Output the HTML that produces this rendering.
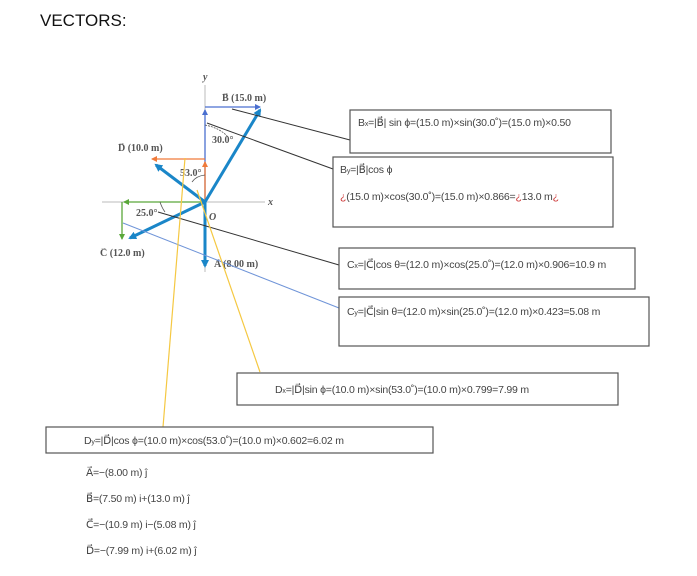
<!DOCTYPE html>
<html><head><meta charset="utf-8"><style>
html,body{margin:0;padding:0;background:#fff;}
svg{display:block;}
.t{font-family:"Liberation Sans",sans-serif;font-size:10.5px;fill:#444;letter-spacing:-0.2px;}
.s{font-family:"Liberation Serif",serif;font-size:10px;fill:#555;font-weight:bold;}
.ar{font-family:"Liberation Sans",sans-serif;font-size:7px;fill:#555;}
</style></head><body>
<svg width="697" height="576" viewBox="0 0 697 576" xmlns="http://www.w3.org/2000/svg">
<defs>
<marker id="ab" markerWidth="8" markerHeight="8" refX="6" refY="4" orient="auto" markerUnits="userSpaceOnUse"><path d="M0,0 L8,4 L0,8 z" fill="#1a86c8"/></marker>
<marker id="as" markerWidth="6" markerHeight="6" refX="5" refY="3" orient="auto" markerUnits="userSpaceOnUse"><path d="M0,0 L6,3 L0,6 z" fill="#4a6fd0"/></marker>
<marker id="ao" markerWidth="6" markerHeight="6" refX="5" refY="3" orient="auto" markerUnits="userSpaceOnUse"><path d="M0,0 L6,3 L0,6 z" fill="#f07a3a"/></marker>
<marker id="ag" markerWidth="6" markerHeight="6" refX="5" refY="3" orient="auto" markerUnits="userSpaceOnUse"><path d="M0,0 L6,3 L0,6 z" fill="#5aa83a"/></marker>
</defs>
<text x="40" y="26" font-family="Liberation Sans,sans-serif" font-size="17" fill="#111">VECTORS:</text>
<line x1="205" y1="85" x2="205" y2="272" stroke="#bbb" stroke-width="1"/>
<line x1="102" y1="202" x2="265" y2="202" stroke="#bbb" stroke-width="1"/>
<text x="203" y="80" class="s" font-style="italic" font-weight="normal">y</text>
<text x="268" y="205" class="s" font-style="italic" font-weight="normal">x</text>
<text x="209" y="220" class="s" font-style="italic">O</text>
<line x1="205" y1="107" x2="260" y2="107" stroke="#4a6fd0" stroke-width="1.3" marker-end="url(#as)"/>
<line x1="205" y1="200" x2="205" y2="110" stroke="#4a6fd0" stroke-width="1.3" marker-end="url(#as)"/>
<line x1="205" y1="159" x2="152" y2="159" stroke="#f07a3a" stroke-width="1.3" marker-end="url(#ao)"/>
<line x1="205" y1="200" x2="205" y2="162" stroke="#f07a3a" stroke-width="1.3" marker-end="url(#ao)"/>
<line x1="205" y1="202" x2="124" y2="202" stroke="#5aa83a" stroke-width="1.3" marker-end="url(#ag)"/>
<line x1="122" y1="202" x2="122" y2="239" stroke="#5aa83a" stroke-width="1.3" marker-end="url(#ag)"/>
<line x1="205" y1="202" x2="260" y2="110" stroke="#1a86c8" stroke-width="3" marker-end="url(#ab)"/>
<line x1="205" y1="202" x2="156" y2="165" stroke="#1a86c8" stroke-width="3" marker-end="url(#ab)"/>
<line x1="205" y1="202" x2="130" y2="238" stroke="#1a86c8" stroke-width="3" marker-end="url(#ab)"/>
<line x1="205" y1="202" x2="205" y2="266" stroke="#1a86c8" stroke-width="3" marker-end="url(#ab)"/>
<path d="M205,125 Q220,128 228,137" fill="none" stroke="#555" stroke-width="0.8" stroke-dasharray="2,1"/>
<path d="M205,175 Q196,176 192,182" fill="none" stroke="#555" stroke-width="0.8"/>
<path d="M160,202 Q162,208 165,212" fill="none" stroke="#555" stroke-width="0.8"/>
<text x="212" y="143" class="s" font-weight="normal">30.0°</text>
<text x="180" y="176" class="s" font-weight="normal">53.0°</text>
<text x="136" y="216" class="s" font-weight="normal">25.0°</text>
<text x="222" y="95" class="ar">→</text><text x="222" y="101" class="s">B (15.0 m)</text>
<text x="118" y="145" class="ar">→</text><text x="118" y="151" class="s">D (10.0 m)</text>
<text x="100" y="250" class="ar">→</text><text x="100" y="256" class="s">C (12.0 m)</text>
<text x="214" y="261" class="ar">→</text><text x="214" y="267" class="s">A (8.00 m)</text>
<line x1="232" y1="109" x2="350" y2="140" stroke="#333" stroke-width="1"/>
<line x1="207" y1="123" x2="333" y2="169" stroke="#333" stroke-width="1"/>
<line x1="158" y1="212" x2="339" y2="265" stroke="#333" stroke-width="1"/>
<line x1="123" y1="223" x2="339" y2="308" stroke="#6f94d8" stroke-width="1"/>
<line x1="185" y1="158" x2="163" y2="427" stroke="#f5c842" stroke-width="1.2"/>
<line x1="197" y1="190" x2="260" y2="372" stroke="#f5c842" stroke-width="1.2"/>
<g fill="#fff" stroke="#555" stroke-width="1.2">
<rect x="350" y="110" width="261" height="43"/>
<rect x="333" y="157" width="280" height="70"/>
<rect x="339" y="248" width="296" height="41"/>
<rect x="339" y="297" width="310" height="49"/>
<rect x="237" y="373" width="381" height="32"/>
<rect x="46" y="427" width="387" height="26"/>
</g>
<svg x="350" y="110" width="260" height="43"><text x="8" y="16" class="t">B<tspan font-size="7">x</tspan>=|B⃗| sin ϕ=(15.0 m)×sin(30.0˚)=(15.0 m)×0.50</text></svg>
<text x="340" y="173" class="t">B<tspan font-size="7">y</tspan>=|B⃗|cos ϕ</text>
<text x="340" y="200" class="t"><tspan fill="#c33">¿</tspan>(15.0 m)×cos(30.0˚)=(15.0 m)×0.866=<tspan fill="#c33">¿</tspan>13.0 m<tspan fill="#c33">¿</tspan></text>
<svg x="339" y="248" width="295" height="41"><text x="8" y="20" class="t">C<tspan font-size="7">x</tspan>=|C⃗|cos θ=(12.0 m)×cos(25.0˚)=(12.0 m)×0.906=10.9 m</text></svg>
<svg x="339" y="297" width="309" height="49"><text x="8" y="18" class="t">C<tspan font-size="7">y</tspan>=|C⃗|sin θ=(12.0 m)×sin(25.0˚)=(12.0 m)×0.423=5.08 m</text></svg>
<text x="275" y="393" class="t">D<tspan font-size="7">x</tspan>=|D⃗|sin ϕ=(10.0 m)×sin(53.0˚)=(10.0 m)×0.799=7.99 m</text>
<text x="84" y="444" class="t">D<tspan font-size="7">y</tspan>=|D⃗|cos ϕ=(10.0 m)×cos(53.0˚)=(10.0 m)×0.602=6.02 m</text>
<text x="86" y="476" class="t">A⃗=−(8.00 m) ĵ</text>
<text x="86" y="502" class="t">B⃗=(7.50 m) i+(13.0 m) ĵ</text>
<text x="86" y="528" class="t">C⃗=−(10.9 m) i−(5.08 m) ĵ</text>
<text x="86" y="554" class="t">D⃗=−(7.99 m) i+(6.02 m) ĵ</text>
</svg>
</body></html>
